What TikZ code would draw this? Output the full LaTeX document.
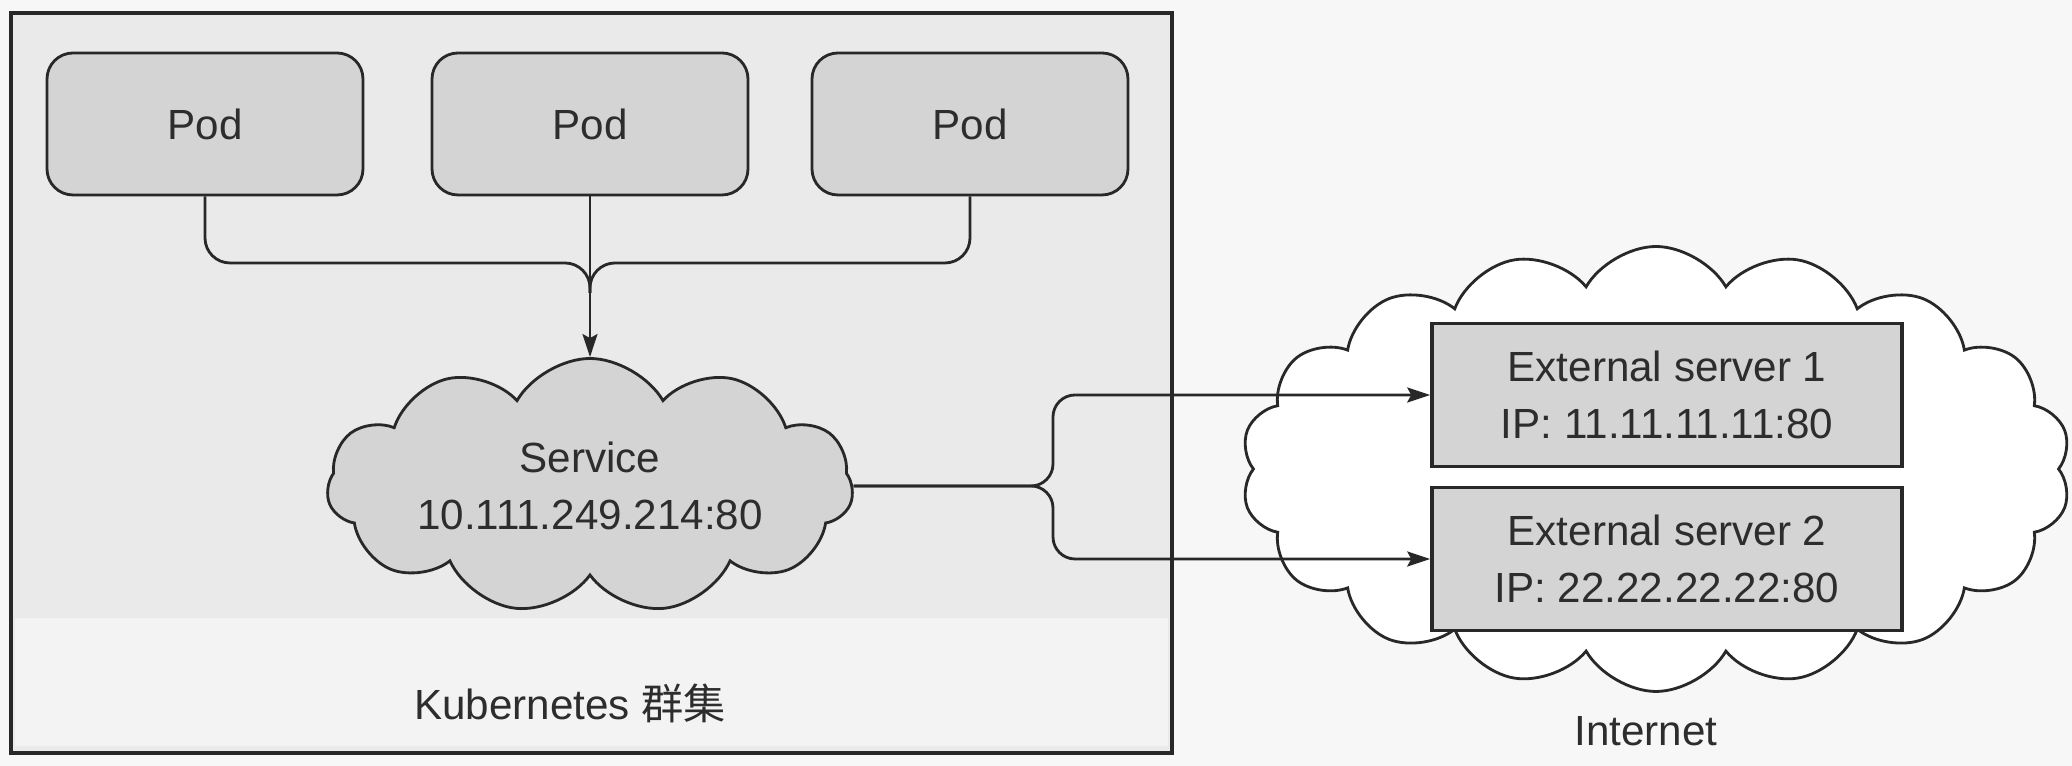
\documentclass[tikz,border=0pt]{standalone}
\usepackage{fontspec}
\setmainfont{Liberation Sans}
\newfontfamily\cjkfont{Noto Sans CJK SC}
\usetikzlibrary{shapes.symbols,arrows.meta}
\definecolor{pagewhite}{RGB}{247,247,247}
\definecolor{clustergray}{RGB}{234,234,234}
\definecolor{bandgray}{RGB}{243,243,243}
\definecolor{boxgray}{RGB}{212,212,212}
\definecolor{inkdark}{RGB}{40,40,40}
\definecolor{textdark}{RGB}{45,45,45}

\tikzset{
  labeltext/.style={text=textdark,font=\fontsize{12}{16}\selectfont},
  podbox/.style={labeltext,draw=inkdark,fill=boxgray,line width=0.8pt,
    rounded corners=0.26cm,minimum width=3.16cm,minimum height=1.42cm},
  srvbox/.style={labeltext,draw=inkdark,fill=boxgray,line width=1pt,
    minimum width=4.70cm,minimum height=1.43cm,align=center},
  svccloud/.style={labeltext,cloud,cloud puffs=11,cloud puff arc=120,aspect=2,
    cloud ignores aspect,draw=inkdark,fill=boxgray,line width=0.8pt,
    minimum width=5.2cm,minimum height=2.55cm,align=center},
  netcloud/.style={cloud,cloud puffs=18,cloud puff arc=120,aspect=2,
    cloud ignores aspect,draw=inkdark,fill=white,line width=0.8pt,
    minimum width=8.3cm,minimum height=4.45cm},
  flow/.style={draw=inkdark,line width=0.8pt},
  flowarrow/.style={flow,-{Stealth[length=2.3mm,width=1.5mm,inset=0.4mm]}}
}

\begin{document}
\begin{tikzpicture}
  % --- page and cluster frame ---
  \useasboundingbox (0,0) rectangle (20.72,7.66);
  \fill[pagewhite] (0,0) rectangle (20.72,7.66);
  \draw[inkdark,line width=1pt,fill=clustergray] (0.11,0.13) rectangle (11.72,7.53);
  \fill[bandgray] (0.15,0.20) rectangle (11.68,1.48);

  % --- pods ---
  \node[podbox] (pod1) at (2.05,6.42) {Pod};
  \node[podbox] (pod2) at (5.90,6.42) {Pod};
  \node[podbox] (pod3) at (9.70,6.42) {Pod};
  \coordinate (hub) at (5.90,5.03);

  % --- service ---
  \node[svccloud] (svc) at (5.90,2.80) {Service\\10.111.249.214:80};

  \draw[flow,rounded corners=0.25cm] (pod1.south) |- (hub) -- ++(0,-0.3);
  \draw[flow,rounded corners=0.25cm] (pod3.south) |- (hub) -- ++(0,-0.3);
  \draw[flowarrow] (pod2.south) -- (svc.north);

  % --- internet ---
  \node[netcloud] (net) at (16.56,2.97) {};
  \node[srvbox] (srv1) at (16.67,3.71) {External server 1\\IP: 11.11.11.11:80};
  \node[srvbox] (srv2) at (16.67,2.07) {External server 2\\IP: 22.22.22.22:80};

  \coordinate (fork) at (10.53,2.80);
  \draw[flowarrow,rounded corners=0.22cm] (svc.east) -- (fork) |- (srv1.west);
  \draw[flowarrow,rounded corners=0.22cm] (svc.east) -- (fork) |- (srv2.west);

  % --- captions ---
  \node[labeltext] (k8slabel) at (5.70,0.63) {Kubernetes {\cjkfont 群集}};
  \node[labeltext] (netlabel) at (16.46,0.35) {Internet};
\end{tikzpicture}
\end{document}
